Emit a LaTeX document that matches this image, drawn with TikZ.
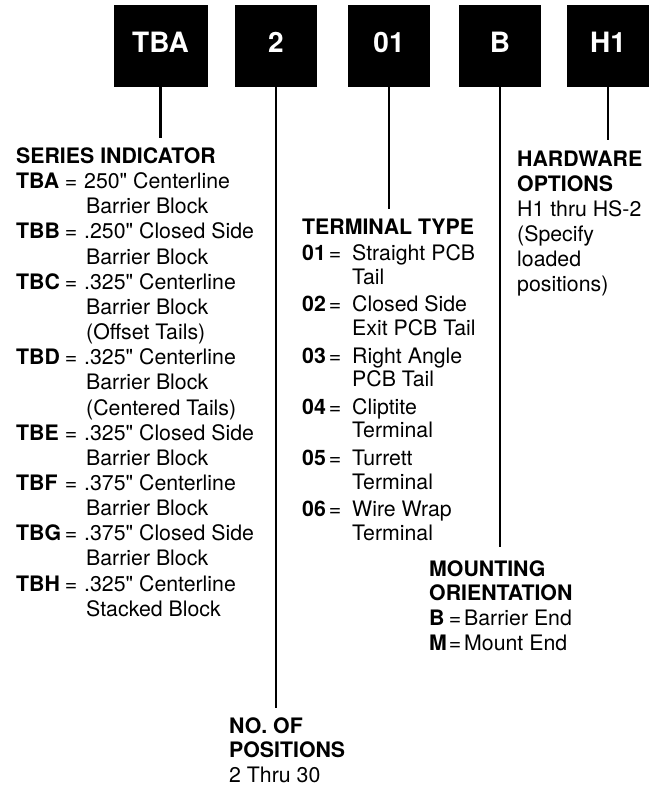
\documentclass[tikz,border=0pt]{standalone}
\usepackage{fontspec}
\setmainfont{TeX Gyre Heros}[Ligatures=TeXOff]
\newcommand\kvL[2]{\makebox[47pt][l]{\bfseries #1}\makebox[16pt][c]{=}\hspace*{5pt}#2}
\newcommand\ctL[1]{\hspace*{70pt}#1}
\newcommand\kvM[2]{\makebox[27pt][l]{\bfseries #1}\makebox[12pt][c]{=}\hspace*{11pt}#2}
\newcommand\ctM[1]{\hspace*{50pt}#1}
\newcommand\kvR[2]{\makebox[20pt][l]{\bfseries #1}\makebox[12pt][c]{=}\hspace*{3pt}#2}
\begin{document}
\begin{tikzpicture}[x=1pt,y=-1pt,
  code/.style={fill=black, text=white, inner sep=0pt, minimum height=82pt, minimum width=82pt,
    text height=20pt, text depth=8pt, font=\fontsize{28}{30}\selectfont\bfseries},
  lead/.style={line width=2.6pt},
  block/.style={anchor=base west, inner sep=0pt}]
\useasboundingbox (0,0) rectangle (655,787);

% code boxes
\node[code, minimum width=94pt] (tba) at (160.5,46) {TBA};
\node[code] (pos) at (276,46) {2};
\node[code] (term) at (389,46) {01};
\node[code] (mount) at (500,46) {B};
\node[code] (hw) at (608,46) {H1};

% leader ends
\coordinate (tbaend) at (160.5,138);
\coordinate (posend) at (276,708);
\coordinate (termend) at (389,209);
\coordinate (mountend) at (500,547);
\coordinate (hwend) at (608,140);

\draw[lead] (tba.south) -- (tbaend);
\draw[lead] (pos.south) -- (posend);
\draw[lead] (term.south) -- (termend);
\draw[lead] (mount.south) -- (mountend);
\draw[lead] (hw.south) -- (hwend);

% series indicator
\node[block, font=\fontsize{21.3}{25.15}\selectfont] (series) at (16,163.5) {\begin{tabular}[t]{@{}l@{}}
\textbf{SERIES INDICATOR}\\
\kvL{TBA}{250" Centerline}\\
\ctL{Barrier Block}\\
\kvL{TBB}{.250" Closed Side}\\
\ctL{Barrier Block}\\
\kvL{TBC}{.325" Centerline}\\
\ctL{Barrier Block}\\
\ctL{(Offset Tails)}\\
\kvL{TBD}{.325" Centerline}\\
\ctL{Barrier Block}\\
\ctL{(Centered Tails)}\\
\kvL{TBE}{.325" Closed Side}\\
\ctL{Barrier Block}\\
\kvL{TBF}{.375" Centerline}\\
\ctL{Barrier Block}\\
\kvL{TBG}{.375" Closed Side}\\
\ctL{Barrier Block}\\
\kvL{TBH}{.325" Centerline}\\
\ctL{Stacked Block}
\end{tabular}};

% terminal type
\node[block, font=\fontsize{21.3}{23.8}\selectfont] (terminal) at (302,234) {\begin{tabular}[t]{@{}l@{}}
\textbf{TERMINAL TYPE}\\[3pt]
\kvM{01}{Straight PCB}\\
\ctM{Tail}\\[3.5pt]
\kvM{02}{Closed Side}\\
\ctM{Exit PCB Tail}\\[3.5pt]
\kvM{03}{Right Angle}\\
\ctM{PCB Tail}\\[3.5pt]
\kvM{04}{Cliptite}\\
\ctM{Terminal}\\[3.5pt]
\kvM{05}{Turrett}\\
\ctM{Terminal}\\[3.5pt]
\kvM{06}{Wire Wrap}\\
\ctM{Terminal}
\end{tabular}};

% hardware options
\node[block, font=\fontsize{21.3}{25}\selectfont] (hardware) at (517,166) {\begin{tabular}[t]{@{}l@{}}
\textbf{HARDWARE}\\
\textbf{OPTIONS}\\
H1 thru HS-2\\
(Specify\\
loaded\\
positions)
\end{tabular}};

% mounting orientation
\node[block, font=\fontsize{21.3}{24.7}\selectfont] (mounting) at (429,576) {\begin{tabular}[t]{@{}l@{}}
\textbf{MOUNTING}\\
\textbf{ORIENTATION}\\
\kvR{B}{Barrier End}\\
\kvR{M}{Mount End}
\end{tabular}};

% number of positions
\node[block, font=\fontsize{21.3}{24.5}\selectfont] (positions) at (229,733) {\begin{tabular}[t]{@{}l@{}}
\textbf{NO. OF}\\
\textbf{POSITIONS}\\
2 Thru 30
\end{tabular}};
\end{tikzpicture}
\end{document}
